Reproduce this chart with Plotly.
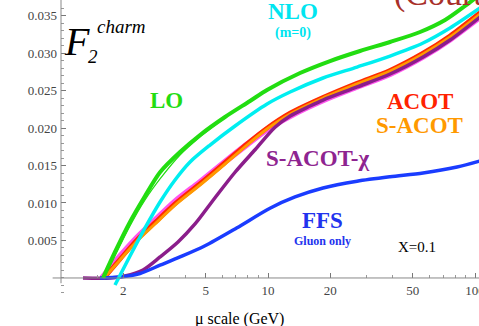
import numpy as np
import plotly.graph_objects as go

# ---- data ----
lo_mu = [1.595, 1.823, 2.154, 2.546, 3.008, 3.757, 4.694, 6.198, 8.185, 9.89, 14.28, 19.93, 27.83, 38.86, 54.25, 71.64, 89.46, 105.7]
lo_F = [0.0, 0.00347, 0.00747, 0.01093, 0.0141, 0.0168, 0.01907, 0.02147, 0.0236, 0.02507, 0.02733, 0.02893, 0.03027, 0.03147, 0.0328, 0.0344, 0.03627, 0.0378]

lo2_mu = [1.62, 2.154, 2.546, 3.008, 3.757, 4.694, 6.198]
lo2_F = [0.0, 0.00693, 0.0104, 0.0132, 0.0164, 0.0188, 0.0214]

nlo_mu = [1.823, 2.154, 2.546, 3.008, 3.554, 4.201, 5.246, 6.928, 9.89, 12.78, 18.44, 26.92, 38.86, 56.09, 75.71, 105.7]
nlo_F = [-0.00093, 0.00293, 0.00667, 0.01013, 0.01307, 0.01547, 0.01773, 0.02027, 0.0232, 0.0248, 0.02667, 0.02813, 0.0296, 0.03133, 0.03333, 0.036]

band_mu = [1.613, 1.928, 2.329, 2.845, 3.554, 4.694, 6.198, 7.916, 9.89, 12.78, 18.44, 26.92, 38.86, 56.09, 75.71, 105.7]
sacot_F = [0.0, 0.0024, 0.00493, 0.0072, 0.00973, 0.0124, 0.0152, 0.01773, 0.01987, 0.02187, 0.024, 0.02587, 0.0276, 0.02987, 0.03213, 0.0352]
acot_F = [0.0, 0.0025, 0.0051, 0.0074, 0.0099, 0.0126, 0.0154, 0.0179, 0.0200, 0.0220, 0.0241, 0.0260, 0.0277, 0.0300, 0.0323, 0.0354]
pink_mu = [1.58, 1.928, 2.329, 2.845, 3.554, 4.694, 6.198, 7.916, 9.89, 12.78, 18.44, 26.92, 38.86, 56.09, 75.71, 105.7]
pink_F = [0.0, 0.0029, 0.0054, 0.0077, 0.0102, 0.0128, 0.0155, 0.0178, 0.0198, 0.0216, 0.0237, 0.0255, 0.0272, 0.0295, 0.0318, 0.0348]

chi_mu = [1.277, 1.725, 2.038, 2.489, 3.008, 3.675, 4.440, 5.546, 6.928, 8.655, 10.81, 12.78, 15.95, 18.44, 26.92, 38.86, 56.09, 75.71, 105.7]
chi_F = [0.0, 0.0, 0.00027, 0.00107, 0.0028, 0.0048, 0.0072, 0.0107, 0.0141, 0.0171, 0.0201, 0.0216, 0.02293, 0.02373, 0.02547, 0.0272, 0.02947, 0.03173, 0.0348]

ffs_mu = [1.543, 1.928, 2.408, 3.008, 3.757, 4.963, 7.084, 10.22, 13.50, 18.44, 26.92, 38.86, 56.09, 81.85, 105.7]
ffs_F = [0.0, 0.00013, 0.0006, 0.0017, 0.0028, 0.0043, 0.0067, 0.0093, 0.0108, 0.0120, 0.0129, 0.0135, 0.0140, 0.0148, 0.0156]

x_tick_vals = [2, 5, 10, 20, 50, 100]
x_tick_text = ["2", "5", "10", "20", "50", "100"]
x_minor_vals = [1.5, 3, 4, 6, 7, 8, 9, 30, 40, 60, 70, 80, 90]
y_tick_vals = [0.005, 0.010, 0.015, 0.020, 0.025, 0.030, 0.035]
y_tick_text = ["0.005", "0.010", "0.015", "0.020", "0.025", "0.030", "0.035"]

SERIF = "Liberation Serif"

fig = go.Figure()

def add(mu, F, color, width):
    fig.add_trace(go.Scatter(x=mu, y=F, mode="lines",
                             line=dict(color=color, width=width, shape="spline", smoothing=0.8),
                             showlegend=False, hoverinfo="skip"))

add(pink_mu, pink_F, "#FF55EE", 6)
add(band_mu, acot_F, "#FF2A00", 4.5)
add(band_mu, sacot_F, "#FF9900", 3)
add(chi_mu, chi_F, "#8B1E8B", 3.5)
add(ffs_mu, ffs_F, "#1A3CFF", 3.5)
add(lo_mu, lo_F, "#22DD11", 4)
add(lo2_mu, lo2_F, "#22DD11", 1.2)
add(nlo_mu, nlo_F, "#00EEF0", 3.5)

ymin, ymax = -0.00227, 0.03707
p0 = (0 - ymin) / (ymax - ymin)

fig.update_layout(
    width=479, height=326,
    margin=dict(l=61, r=0, t=0, b=31),
    paper_bgcolor="white", plot_bgcolor="white",
    xaxis=dict(type="log", range=[0, 2.019], anchor="free", position=p0, automargin=False,
               showgrid=False, zeroline=False, showline=False,
               tickvals=x_tick_vals, ticktext=x_tick_text,
               ticks="inside", ticklen=5, tickcolor="#777", tickwidth=1,
               minor=dict(tickvals=x_minor_vals, ticks="inside", ticklen=3, tickcolor="#999"),
               tickfont=dict(family=SERIF, size=13, color="#444"),
               ticklabelstandoff=3,
               ticklabeloverflow="allow"),
    yaxis=dict(range=[ymin, ymax], showgrid=False, zeroline=False, showline=False, automargin=False,
               tickvals=y_tick_vals, ticktext=y_tick_text,
               ticks="inside", ticklen=5, tickcolor="#777", tickwidth=1,
               minor=dict(dtick=0.001, tick0=0, ticks="inside", ticklen=3, tickcolor="#999"),
               ticklabelstandoff=3,
               tickfont=dict(family=SERIF, size=13, color="#444")),
)

# axis lines crossing at the origin
fig.add_shape(type="line", xref="paper", yref="y", x0=-0.02, x1=1.0, y0=0, y1=0,
              line=dict(color="#888", width=1))
fig.add_shape(type="line", xref="paper", yref="y", x0=0, x1=0, y0=-0.0007, y1=ymax,
              line=dict(color="#888", width=1))

def ann(text, mu, F, color, size, bold=True, italic=False, xanchor="center", yanchor="middle"):
    t = text
    if italic:
        t = "<i>" + t + "</i>"
    if bold:
        t = "<b>" + t + "</b>"
    fig.add_annotation(x=np.log10(mu), y=F, xref="x", yref="y", text=t, showarrow=False,
                       font=dict(family=SERIF, size=size, color=color),
                       xanchor=xanchor, yanchor=yanchor)

ann("LO", 3.25, 0.0237, "#22DD11", 23)
ann("NLO", 13.2, 0.0355, "#00E5F0", 23)
ann("(m=0)", 13.2, 0.0327, "#00E5F0", 14)
ann("ACOT", 54.5, 0.0236, "#FF2200", 23)
ann("S-ACOT", 53.9, 0.0203, "#FF9900", 23)
ann("S-ACOT-χ", 17.25, 0.0160, "#8E2490", 23)
ann("FFS", 18.3, 0.0076, "#2233EE", 23)
ann("Gluon only", 18.3, 0.0049, "#2233EE", 12)
ann("X=0.1", 52.5, 0.0041, "#000000", 15, bold=False)
ann("F", 1.20, 0.0315, "#000000", 40, bold=False, italic=True)
ann("2", 1.43, 0.0296, "#000000", 19, bold=False, italic=True)
ann("charm", 1.97, 0.0336, "#000000", 19, bold=False, italic=True)
ann("(Court", 39.7, 0.0351, "#A8302A", 34, bold=False, xanchor="left", yanchor="bottom")

fig.add_annotation(x=0.428, y=-0.082, xref="paper", yref="paper", text="μ scale (GeV)",
                   xanchor="center", yanchor="middle",
                   showarrow=False, font=dict(family=SERIF, size=16, color="#000"))

fig.write_html("out.html")
